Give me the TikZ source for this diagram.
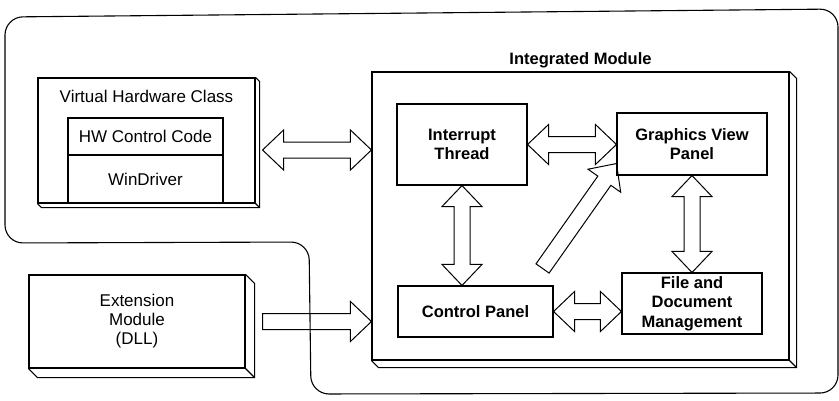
\documentclass[tikz,border=0pt]{standalone}
\usepackage{fontspec}
\setmainfont{Liberation Sans}
\usetikzlibrary{calc,positioning}

\newcommand{\headlen}{21pt}
\newcommand{\headw}{20pt}
\newcommand{\shaftw}{8pt}

\newcommand{\slab}[2]{%
  \draw (#1.north east) -- ++(#2,#2) -- ($(#1.south east)+(#2,#2)$) -- ($(#1.south west)+(#2,#2)$) -- (#1.south west)
        (#1.south east) -- ++(#2,#2);}

\newcommand{\blockdarrow}[2]{%
  \draw[barrow] (#1)
    -- ($(#1)!\headlen!(#2)!\headw!90:(#2)$) -- ($(#1)!\headlen!(#2)!\shaftw!90:(#2)$)
    -- ($(#2)!\headlen!(#1)!\shaftw!-90:(#1)$) -- ($(#2)!\headlen!(#1)!\headw!-90:(#1)$)
    -- (#2)
    -- ($(#2)!\headlen!(#1)!\headw!90:(#1)$) -- ($(#2)!\headlen!(#1)!\shaftw!90:(#1)$)
    -- ($(#1)!\headlen!(#2)!\shaftw!-90:(#2)$) -- ($(#1)!\headlen!(#2)!\headw!-90:(#2)$)
    -- cycle;}

\newcommand{\blockarrow}[2]{%
  \draw[barrow] ($(#1)!\shaftw!90:(#2)$)
    -- ($(#2)!\headlen!(#1)!\shaftw!-90:(#1)$) -- ($(#2)!\headlen!(#1)!\headw!-90:(#1)$)
    -- (#2)
    -- ($(#2)!\headlen!(#1)!\headw!90:(#1)$) -- ($(#2)!\headlen!(#1)!\shaftw!90:(#1)$)
    -- ($(#1)!\shaftw!-90:(#2)$) -- cycle;}

\begin{document}
\begin{tikzpicture}[x=1pt, y=-1pt, line width=1.1pt,
  every node/.style={font=\fontsize{17}{19}\selectfont},
  box/.style={draw, inner sep=0pt, align=center},
  bbox/.style={box, font=\fontsize{16.5}{19.5}\selectfont\bfseries},
  barrow/.style={draw, line width=1pt, line join=miter}]

\useasboundingbox (0,0) rectangle (839,400);

\draw[rounded corners=18] (5,17) -- (838,9) -- (838,393) -- (311,394) -- (309,242) -- (5,243) -- cycle;

\node[box, minimum width=217pt, minimum height=125pt] (vhc) at (146.5,140.5) {};
\node[below=9pt of vhc.north] (vhct) {Virtual Hardware Class};
\node[box, minimum width=155pt, minimum height=37pt] (hw) at (145.5,136.5) {HW Control Code};
\node[box, minimum width=155pt, minimum height=48pt] (wd) at (145.5,179) {WinDriver};
\slab{vhc}{4}

\node[box, minimum width=216pt, minimum height=93pt] (ext) at (137,321.5) {Extension\\Module\\(DLL)};
\slab{ext}{9}

\node[box, minimum width=417pt, minimum height=288pt] (im) at (580.5,216) {};
\node[above=0pt of im.north, font=\fontsize{16.5}{19.5}\selectfont\bfseries] (imt) {Integrated Module};
\slab{im}{7}

\node[bbox, minimum width=130pt, minimum height=81pt] (it) at (462,144.5) {Interrupt\\Thread};
\node[bbox, minimum width=150pt, minimum height=62pt] (gv) at (692,144) {Graphics View\\Panel};
\node[bbox, minimum width=155pt, minimum height=51pt] (cp) at (475.5,311.5) {Control Panel};
\node[bbox, minimum width=140pt, minimum height=61pt] (fd) at (692,303.5) {File and\\Document\\Management};

\coordinate (vhcout) at ([shift={(7,9.5)}]vhc.east);
\coordinate (extout) at ([xshift=17]ext.east);
\coordinate (diagtail) at ([shift={(-11,-17)}]cp.north east);
\coordinate (diagtip) at ([yshift=12]gv.south west);

\blockdarrow{vhcout}{vhcout -| im.west}
\blockdarrow{it.east}{it.east -| gv.west}
\blockdarrow{it.south}{it.south |- cp.north}
\blockdarrow{gv.south}{fd.north}
\blockdarrow{cp.east}{cp.east -| fd.west}
\blockarrow{extout}{extout -| im.west}
\blockarrow{diagtail}{diagtip}
\end{tikzpicture}
\end{document}
